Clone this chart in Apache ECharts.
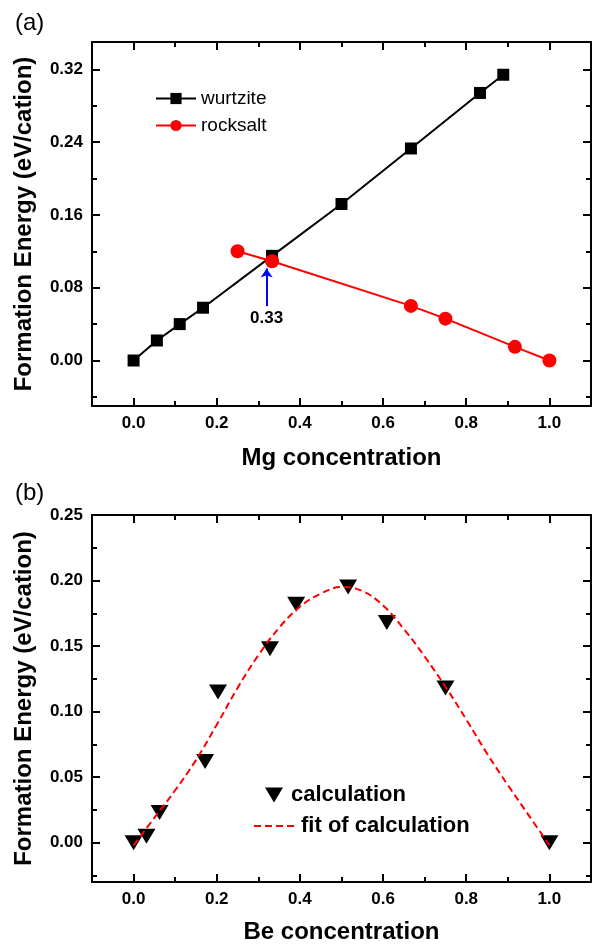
<!DOCTYPE html>
<html lang="en">

<head>
    <meta charset="UTF-8">
    <title>Formation energy</title>
    <script src="https://cdn.jsdelivr.net/npm/echarts@6/dist/echarts.min.js"></script>
    <style>
        body { margin: 0; background: #fff; }
    </style>
</head>

<body>
    <div id="container" style="width: 592px; height: 945px;"></div>
    <script>
        // (a) Mg concentration
        var wurtziteX = [0, 0.056, 0.111, 0.167, 0.333, 0.5, 0.667, 0.833, 0.889];
        var wurtziteY = [0, 0.022, 0.040, 0.058, 0.115, 0.172, 0.233, 0.294, 0.314];
        var rocksaltX = [0.25, 0.333, 0.667, 0.75, 0.917, 1.0];
        var rocksaltY = [0.120, 0.109, 0.060, 0.046, 0.015, 0];

        // (b) Be concentration
        var calcX = [0, 0.031, 0.0625, 0.172, 0.203, 0.328, 0.391, 0.516, 0.609, 0.75, 1.0];
        var calcY = [0, 0.005, 0.023, 0.062, 0.115, 0.148, 0.182, 0.195, 0.168, 0.118, 0];
        var fitX = [0, 0.05, 0.1, 0.15, 0.2, 0.25, 0.3, 0.35, 0.4, 0.45, 0.5, 0.55, 0.6, 0.65, 0.7, 0.75, 0.8, 0.85, 0.9, 0.95, 1.0];
        var fitY = [-0.002, 0.019, 0.040, 0.063, 0.090, 0.118, 0.143, 0.164, 0.180, 0.190, 0.195, 0.192, 0.181, 0.163, 0.142, 0.119, 0.094, 0.068, 0.044, 0.021, -0.002];

        // ticks
        var xMajor = [0, 0.2, 0.4, 0.6, 0.8, 1.0];
        var xMinor = [0.1, 0.3, 0.5, 0.7, 0.9];
        var aYMajor = [0, 0.08, 0.16, 0.24, 0.32];
        var aYMinor = [-0.04, 0.04, 0.12, 0.20, 0.28];
        var bYMajor = [0, 0.05, 0.10, 0.15, 0.20, 0.25];
        var bYMinor = [-0.025, 0.025, 0.075, 0.125, 0.175, 0.225];

        var font = 'Liberation Sans, Arial, sans-serif';
        var downTriangle = 'path://M0,0 L18,0 L9,15 Z';

        function pairs(xs, ys) {
            return xs.map(function (x, i) { return [x, ys[i]]; });
        }

        // main + minor tick axes on both sides of the frame
        function makeAxes(dim, gridIndex, min, max, major, minor, digits, name, nameGap) {
            var sides = dim === 'x' ? ['bottom', 'top'] : ['left', 'right'];
            var list = [];
            sides.forEach(function (pos, s) {
                list.push({
                    type: 'value', gridIndex: gridIndex, position: pos,
                    min: min, max: max,
                    name: s === 0 ? name : '',
                    nameLocation: 'middle',
                    nameGap: nameGap,
                    nameRotate: dim === 'y' ? 90 : 0,
                    nameTextStyle: { fontFamily: font, fontSize: 24, fontWeight: 'bold', color: '#000' },
                    axisLine: { show: true, onZero: false, lineStyle: { color: '#000', width: 2 } },
                    axisTick: { show: true, inside: true, length: 8, customValues: major, lineStyle: { color: '#000', width: 2 } },
                    axisLabel: {
                        show: s === 0, customValues: major, margin: 9,
                        fontFamily: font, fontSize: 17, fontWeight: 'bold', color: '#000',
                        formatter: function (v) { return Number(v).toFixed(digits); }
                    },
                    splitLine: { show: false }
                });
                list.push({
                    type: 'value', gridIndex: gridIndex, position: pos,
                    min: min, max: max,
                    axisLine: { show: false, onZero: false },
                    axisTick: { show: true, inside: true, length: 5, customValues: minor, lineStyle: { color: '#000', width: 2 } },
                    axisLabel: { show: false },
                    splitLine: { show: false }
                });
            });
            return list;
        }

        var xAxes = makeAxes('x', 0, -0.1, 1.1, xMajor, xMinor, 1, 'Mg concentration', 40)
            .concat(makeAxes('x', 1, -0.1, 1.1, xMajor, xMinor, 1, 'Be concentration', 38));
        var yAxes = makeAxes('y', 0, -0.05, 0.35, aYMajor, aYMinor, 2, 'Formation Energy (eV/cation)', 56)
            .concat(makeAxes('y', 1, -0.03, 0.25, bYMajor, bYMinor, 2, 'Formation Energy (eV/cation)', 56));

        var myCharts = echarts.init(document.querySelector('#container'));
        myCharts.setOption({
            backgroundColor: '#fff',
            animation: false,
            title: [
                { text: '(a)', left: 10, top: 6, textStyle: { fontFamily: font, fontSize: 24, fontWeight: 'normal', color: '#000' } },
                { text: '(b)', left: 10, top: 476, textStyle: { fontFamily: font, fontSize: 24, fontWeight: 'normal', color: '#000' } }
            ],
            grid: [
                { left: 92, right: 1, top: 42, bottom: 539 },
                { left: 92, right: 1, top: 515, bottom: 60 }
            ],
            legend: [
                {
                    data: ['wurtzite', 'rocksalt'], orient: 'vertical', left: 150, top: 84,
                    itemWidth: 40, itemHeight: 14, itemGap: 8,
                    textStyle: { fontFamily: font, fontSize: 19, color: '#000' }
                },
                {
                    data: [{ name: 'calculation', icon: downTriangle }], left: 260, top: 779,
                    itemWidth: 18, itemHeight: 15,
                    textStyle: { fontFamily: font, fontSize: 22, fontWeight: 'bold', color: '#000', padding: [0, 0, 0, 3] }
                },
                {
                    data: [{ name: 'fit of calculation', itemStyle: { opacity: 0 } }], left: 248, top: 810,
                    itemWidth: 42, itemHeight: 16,
                    textStyle: { fontFamily: font, fontSize: 22, fontWeight: 'bold', color: '#000' }
                }
            ],
            xAxis: xAxes,
            yAxis: yAxes,
            series: [
                {
                    name: 'wurtzite', type: 'line', xAxisIndex: 0, yAxisIndex: 0,
                    data: pairs(wurtziteX, wurtziteY),
                    symbol: 'rect', symbolSize: 12,
                    itemStyle: { color: '#000' },
                    lineStyle: { color: '#000', width: 2 },
                    z: 2
                },
                {
                    name: 'rocksalt', type: 'line', xAxisIndex: 0, yAxisIndex: 0,
                    data: pairs(rocksaltX, rocksaltY),
                    symbol: 'circle', symbolSize: 14,
                    itemStyle: { color: '#ff0000' },
                    lineStyle: { color: '#ff0000', width: 2 },
                    z: 3,
                    markLine: {
                        silent: true,
                        symbol: ['none', 'arrow'],
                        symbolSize: 9,
                        lineStyle: { color: '#0000ff', width: 2, type: 'solid' },
                        label: {
                            show: true, position: 'start', formatter: '0.33', distance: 4,
                            fontFamily: font, fontSize: 17, fontWeight: 'bold', color: '#000'
                        },
                        data: [[{ coord: [0.32, 0.06] }, { coord: [0.32, 0.101] }]]
                    }
                },
                {
                    name: 'calculation', type: 'scatter', xAxisIndex: 4, yAxisIndex: 4,
                    data: pairs(calcX, calcY),
                    symbol: 'triangle', symbolRotate: 180, symbolSize: [18, 15],
                    itemStyle: { color: '#000', opacity: 1 },
                    z: 2
                },
                {
                    name: 'fit of calculation', type: 'line', xAxisIndex: 4, yAxisIndex: 4,
                    data: pairs(fitX, fitY),
                    smooth: 0.4, showSymbol: false, symbol: 'none',
                    lineStyle: { color: '#ff0000', width: 2, type: [7, 4] },
                    itemStyle: { color: '#ff0000' },
                    z: 3
                }
            ]
        });
    </script>
</body>

</html>
